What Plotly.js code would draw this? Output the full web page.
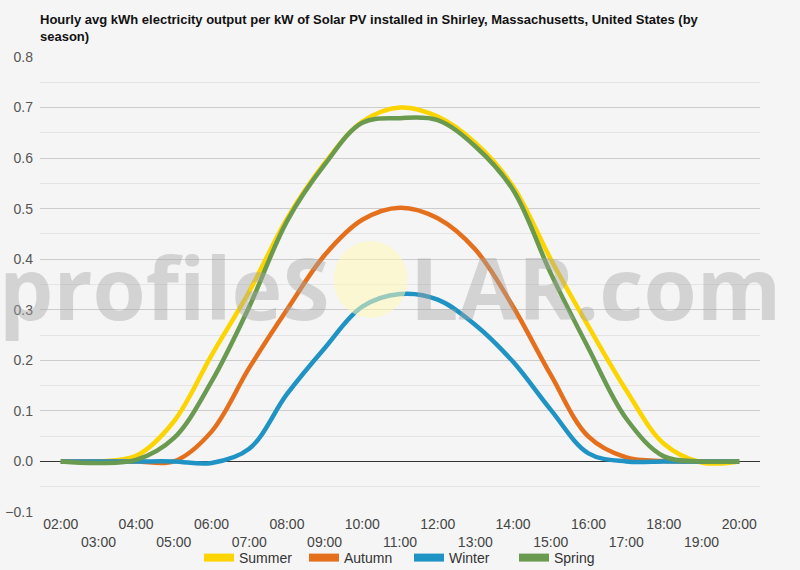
<!DOCTYPE html>
<html>
<head>
<meta charset="utf-8">
<script src="https://cdn.plot.ly/plotly-3.0.1.min.js"></script>
<style>
    html, body { margin: 0; padding: 0; background: #f5f5f5; }
    #chart { width: 800px; height: 570px; }
</style>
</head>
<body>
<div id="chart"></div>
<script>
// Hourly values (hours 02:00 .. 20:00)
const hours = [2, 3, 4, 5, 6, 7, 8, 9, 10, 11, 12, 13, 14, 15, 16, 17, 18, 19, 20]
const hourLabels = ["02:00", "03:00", "04:00", "05:00", "06:00", "07:00", "08:00", "09:00", "10:00", "11:00",
    "12:00", "13:00", "14:00", "15:00", "16:00", "17:00", "18:00", "19:00", "20:00"]

const summer = [0, 0, 0.011, 0.079, 0.21, 0.336, 0.48, 0.59, 0.672, 0.70, 0.682, 0.63, 0.544, 0.40, 0.267, 0.141, 0.035, -0.002, 0]
const autumn = [0, 0, 0, 0, 0.059, 0.185, 0.30, 0.408, 0.478, 0.502, 0.481, 0.419, 0.306, 0.171, 0.049, 0.008, 0.001, 0, 0]
const winter = [0, 0, 0, 0, -0.003, 0.025, 0.133, 0.224, 0.306, 0.331, 0.32, 0.27, 0.197, 0.102, 0.016, 0, 0, 0, 0]
const spring = [0, -0.003, 0.003, 0.046, 0.158, 0.306, 0.475, 0.587, 0.67, 0.679, 0.675, 0.623, 0.537, 0.372, 0.224, 0.085, 0.01, 0, 0]

const seriesNames = ["Summer", "Autumn", "Winter", "Spring"]
const seriesColors = ["#fcd400", "#e4701e", "#1f93c4", "#6a9a50"]
const seriesValues = [summer, autumn, winter, spring]

// even hours on the first row, odd hours on a second row
const evenHours = hours.filter((h, i) => i % 2 === 0)
const evenLabels = hourLabels.filter((t, i) => i % 2 === 0)
const oddHours = hours.filter((h, i) => i % 2 === 1)
const oddLabels = hourLabels.filter((t, i) => i % 2 === 1)

const lineTraces = seriesValues.map((vals, i) => ({
    x: hours,
    y: vals,
    type: "scatter",
    mode: "lines",
    name: seriesNames[i],
    showlegend: false,
    line: { color: seriesColors[i], width: 4.5, shape: "spline", smoothing: 1 },
}))

// legend only entries (thicker swatches), they also carry the second x axis
const legendTraces = seriesNames.map((name, i) => ({
    x: [null],
    y: [null],
    xaxis: "x2",
    type: "scatter",
    mode: "lines",
    name: name,
    line: { color: seriesColors[i], width: 8 },
}))

const watermarkFont = { family: "Open Sans, sans-serif", size: 86, weight: 700, color: "rgba(165,165,165,0.42)" }
const xRange = [1.45, 20.55]

const layout = {
    width: 800,
    height: 570,
    paper_bgcolor: "#f5f5f5",
    plot_bgcolor: "#f5f5f5",
    font: { family: "Arial, Liberation Sans, sans-serif", color: "#444" },
    margin: { l: 40, r: 40, t: 57, b: 58 },
    title: {
        text: "<b>Hourly avg kWh electricity output per kW of Solar PV installed in Shirley, Massachusetts, United States (by<br>season)</b>",
        font: { size: 13, color: "#111" },
        x: 40 / 800,
        xanchor: "left",
        xref: "container",
        y: 1 - 24 / 570,
        yanchor: "middle",
        yref: "container",
    },
    xaxis: {
        type: "linear",
        range: xRange,
        tickmode: "array",
        tickvals: evenHours,
        ticktext: evenLabels,
        tickfont: { size: 14, color: "#444" },
        ticklabelstandoff: 2,
        showgrid: false,
        zeroline: false,
        ticks: "",
        showline: false,
    },
    xaxis2: {
        type: "linear",
        overlaying: "x",
        side: "bottom",
        anchor: "y",
        range: xRange,
        tickmode: "array",
        tickvals: oddHours,
        ticktext: oddLabels,
        tickfont: { size: 14, color: "#444" },
        ticklabelstandoff: 20,
        showgrid: false,
        zeroline: false,
        ticks: "",
        showline: false,
    },
    yaxis: {
        range: [-0.1, 0.8],
        dtick: 0.1,
        tickformat: ".1f",
        tickfont: { size: 14, color: "#555" },
        ticklabelstandoff: 6,
        gridcolor: "#cccccc",
        gridwidth: 1,
        minor: { dtick: 0.05, showgrid: true, gridcolor: "#e4e4e4", gridwidth: 1 },
        zeroline: true,
        zerolinecolor: "#333",
        zerolinewidth: 1,
        ticks: "",
        showline: false,
    },
    legend: {
        orientation: "h",
        x: 0.5 + 9 / 800,
        xanchor: "center",
        xref: "container",
        y: 12 / 570,
        yanchor: "middle",
        yref: "container",
        font: { size: 14, color: "#333" },
        itemwidth: 30,
        entrywidth: 60,
        bgcolor: "rgba(0,0,0,0)",
    },
    shapes: [{
        type: "circle",
        xref: "x",
        yref: "y",
        x0: 9.24, x1: 11.2,
        y0: 0.284, y1: 0.436,
        fillcolor: "rgba(255,248,180,0.55)",
        line: { width: 0 },
        layer: "above",
    }],
    annotations: [
        { text: "profileS", xref: "x", yref: "y", x: 9.2, y: 0.347, xanchor: "right", yanchor: "middle", showarrow: false, font: watermarkFont },
        { text: "LAR.com", xref: "x", yref: "y", x: 11.22, y: 0.347, xanchor: "left", yanchor: "middle", showarrow: false, font: watermarkFont },
    ],
}

Plotly.newPlot("chart", [...lineTraces, ...legendTraces], layout, { staticPlot: true, displayModeBar: false })
</script>
</body>
</html>
